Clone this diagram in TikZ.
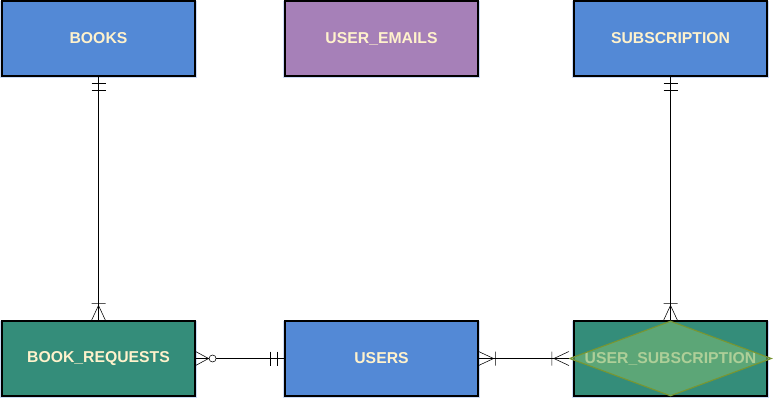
\documentclass[tikz,border=0pt]{standalone}
\usepackage{fontspec}
\setmainfont{Liberation Sans}
\usepackage{tikz}
\usetikzlibrary{shapes,positioning,shadows,calc}
\usepackage{xcolor}
\definecolor{erblue}{RGB}{83,137,214}
\definecolor{erpurple}{RGB}{166,128,184}
\definecolor{ergreen}{RGB}{52,141,122}
\definecolor{ercream}{RGB}{255,242,204}
\definecolor{erglow}{RGB}{190,210,245}
\definecolor{relfill}{RGB}{120,184,118}
\definecolor{reldraw}{RGB}{120,150,50}
\tikzstyle{entity} = [rectangle, minimum width=4.825cm, minimum height=1.875cm, text centered, draw=black, thick, inner sep=0pt, font=\bfseries\fontsize{11.2}{13}\selectfont, text=ercream, drop shadow={shadow xshift=0pt, shadow yshift=-1pt, shadow scale=1.025, fill=erglow, opacity=0.8}]
\tikzstyle{rel} = [diamond, minimum width=5.05cm, minimum height=1.875cm, inner sep=0pt, draw=reldraw, fill=relfill, fill opacity=0.6, thick]
\tikzstyle{link} = [thin, color=black]
\tikzset{
  onlyone/.pic={\draw[link] (7,-7) -- (7,7) (14,-7) -- (14,7);},
  onemany/.pic={\draw[link] (0,-7) -- (15,0) -- (0,7) (17,-7) -- (17,7);},
  zeromany/.pic={\draw[link] (0,-7) -- (13,0) -- (0,7);
    \draw[link, fill=white] (17,0) circle (3.5);}
}

\begin{document}
\begin{tikzpicture}[x=0.025cm, y=0.025cm]
\useasboundingbox (0,0) rectangle (775,404);

% Top row
\node[entity, fill=erblue] (books) at (98.5, 365.5) {BOOKS};
\node[entity, fill=erpurple] (useremails) at (381.5, 365.5) {USER\_EMAILS};
\node[entity, fill=erblue] (subscription) at (670.5, 365.5) {SUBSCRIPTION};

% Bottom row
\node[entity, fill=ergreen] (bookrequests) at (98.5, 45.5) {BOOK\_REQUESTS};
\node[entity, fill=erblue] (users) at (381.5, 45.5) {USERS};
\node[entity, fill=ergreen] (usersub) at (670.5, 45.5) {USER\_SUBSCRIPTION};
\node[rel] (usersubrel) at (670.5, 45.5) {};

% Links
\draw[link] (books.south) -- (bookrequests.north);
\draw[link] (bookrequests.east) -- (users.west);
\draw[link] (users.east) -- (usersubrel.west);
\draw[link] (subscription.south) -- (usersubrel.north);

% Ends
\pic[rotate=-90] at (books.south) {onlyone};
\pic[rotate=90] at (bookrequests.north) {onemany};
\pic at (bookrequests.east) {zeromany};
\pic[rotate=180] at (users.west) {onlyone};
\pic at (users.east) {onemany};
\pic[rotate=180] at (usersubrel.west) {onemany};
\pic[rotate=-90] at (subscription.south) {onlyone};
\pic[rotate=90] at (usersubrel.north) {onemany};
\end{tikzpicture}
\end{document}
